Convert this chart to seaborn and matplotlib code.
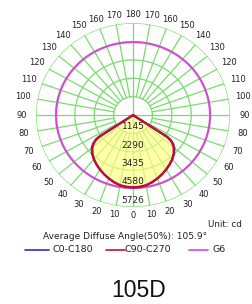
import numpy as np
import matplotlib
matplotlib.use("Agg")
import matplotlib.pyplot as plt
import seaborn as sns

sns.set_style("white")
plt.rcParams['font.family'] = ['DejaVu Sans']

# intensity (cd) vs gamma angle
gamma = [0, 5, 10, 15, 20, 25, 30, 35, 40, 45, 50, 53, 55, 56, 57, 70, 80, 90]
c0_c180 = [4500, 4490, 4440, 4330, 4200, 4060, 3910, 3760, 3600, 3420, 3180, 2950, 2700, 2450, 0, 0, 0, 0]
c90_c270 = [4500, 4490, 4440, 4330, 4200, 4060, 3910, 3760, 3590, 3390, 3130, 2900, 2650, 2400, 0, 0, 0, 0]
g6 = 4540
rings = [1145, 2290, 3435, 4580, 5726]
rmax = 5726

grid_col = "#78dc6c"

fig = plt.figure(figsize=(2.52, 3.04), dpi=100)
ax = fig.add_axes([0.143, 0.319, 0.770, 0.605], projection="polar")
ax.set_aspect("auto")
ax.set_theta_zero_location("S")
ax.set_ylim(0, rmax)
ax.grid(False)
ax.set_xticklabels([])
ax.set_yticklabels([])
ax.spines["polar"].set_visible(False)

# grid: rings and spokes
tt = np.linspace(0, 2 * np.pi, 361)
for r in rings:
    ax.plot(tt, np.full_like(tt, r), color=grid_col, lw=0.9, zorder=1)
for a in range(0, 360, 10):
    th = np.deg2rad(a)
    r0 = 0 if a % 90 == 0 else rings[0]
    ax.plot([th, th], [r0, rmax], color=grid_col, lw=0.9, zorder=1)

# curves, mirrored to both sides
def full(vals):
    g = np.array(gamma, dtype=float)
    v = np.array(vals, dtype=float)
    th = np.deg2rad(np.concatenate([-g[::-1], g[1:]]))
    rr = np.concatenate([v[::-1], v[1:]])
    return th, rr

th_b, r_b = full(c0_c180)
th_r, r_r = full(c90_c270)
ax.fill(th_r, r_r, color="#ffff80", alpha=0.65, zorder=2, lw=0)
ax.plot(tt, np.full_like(tt, g6), color="#e040e0", lw=1.4, zorder=3)
ax.plot(th_b, r_b, color="#2830c8", lw=1.6, zorder=4)
ax.plot(th_r, r_r, color="#cc0a30", lw=1.6, zorder=5)

# radial value labels
for r in rings:
    ax.text(0, r - 420, str(r), ha="center", va="center", fontsize=6.5,
            color="#222222", zorder=6)

# angle labels on both sides
for a in range(0, 190, 10):
    s = abs(np.sin(np.deg2rad(a)))
    rl = rmax * (1.09 + 0.06 * s)
    for sgn in ([1] if a in (0, 180) else [1, -1]):
        ax.text(np.deg2rad(sgn * a), rl, str(a), ha="center", va="center",
                fontsize=6, color="#222222")

fig.text(0.958, 0.263, "Unit: cd", ha="right", va="center", fontsize=6.3, color="#222222")
fig.text(0.498, 0.221, "Average Diffuse Angle(50%): 105.9°", ha="center", va="center",
         fontsize=6.5, color="#222222")

# legend row
leg = [("C0-C180", "#2830c8"), ("C90-C270", "#cc0a30"), ("G6", "#e040e0")]
line_x = [(0.099, 0.195), (0.421, 0.496), (0.75, 0.825)]
text_x = [0.207, 0.496, 0.845]
for (lab, col), (x0, x1), xt in zip(leg, line_x, text_x):
    fig.add_artist(plt.Line2D([x0, x1], [0.178, 0.178], color=col, lw=1.2,
                              transform=fig.transFigure))
    fig.text(xt, 0.178, lab, ha="left", va="center", fontsize=6.8, color="#222222")

fig.text(0.552, 0.045, "105D", ha="center", va="center", fontsize=16.5,
         family="Liberation Sans", color="#111111")

fig.savefig("out.png", dpi=100)
